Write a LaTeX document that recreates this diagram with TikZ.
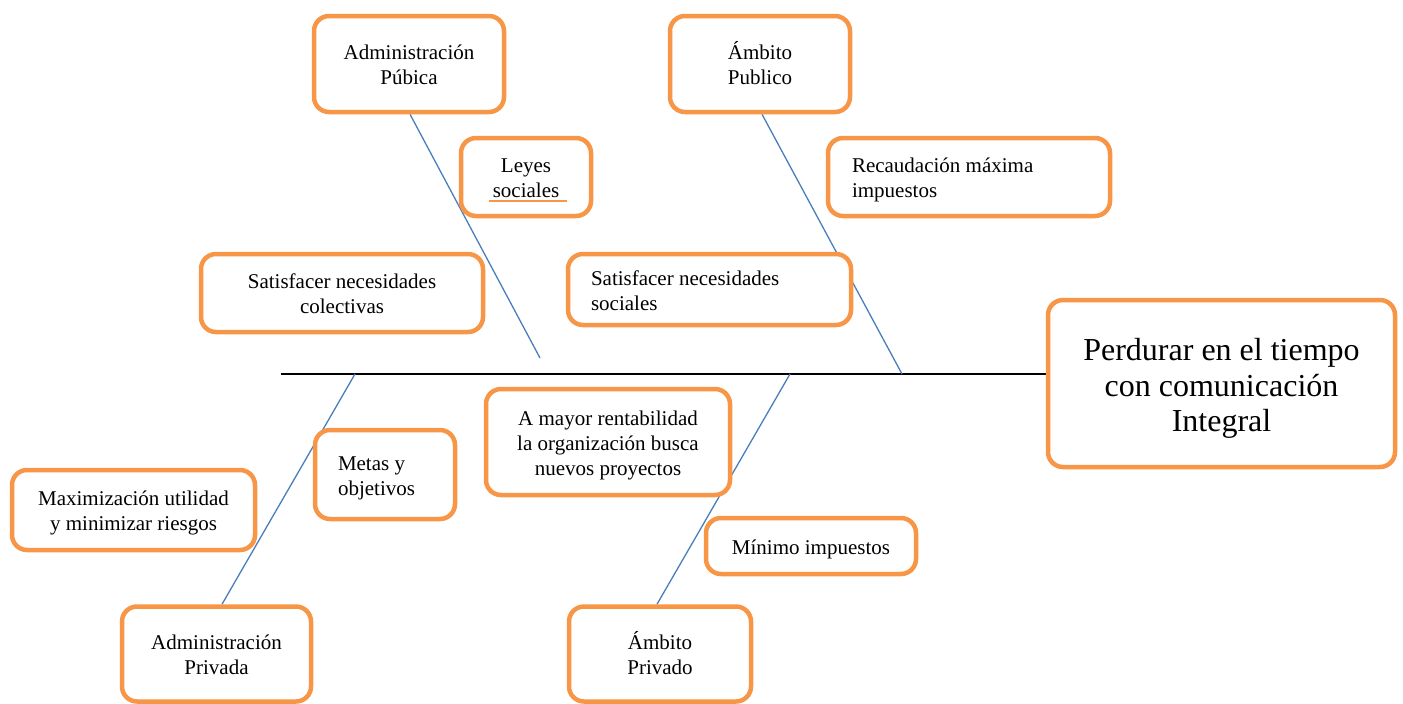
\documentclass[tikz,border=0pt]{standalone}
\usepackage{fontspec}
\setmainfont{Liberation Serif}
\usetikzlibrary{backgrounds,calc}
\definecolor{boxorange}{HTML}{F79646}
\definecolor{boneblue}{HTML}{4A7EBB}
\newcommand{\topst}{\rule{0pt}{1.1em}}
\newcommand{\botst}{\rule[-0.3em]{0pt}{0pt}}
\tikzset{
  box/.style={draw=boxorange, line width=4.5pt, rounded corners=15pt, fill=white,
    inner sep=0pt, align=center, font=\fontsize{21}{25}\selectfont},
  bone/.style={draw=boneblue, line width=1.3pt},
  spine/.style={draw=black, line width=1.3pt}
}
\begin{document}
\begin{tikzpicture}[x=1pt,y=-1pt]
\useasboundingbox (0,0) rectangle (1403,704);
\node[box, minimum width=190, minimum height=96] (AdmPub) at (409,64) {\topst Administración\\Púbica\botst};
\node[box, minimum width=180, minimum height=96] (AmbPub) at (760,64) {\topst Ámbito\\Publico\botst};
\node[box, minimum width=130, minimum height=78] (Leyes) at (526,177) {\topst Leyes\\sociales\botst};
\node[box, minimum width=282, minimum height=78, align=flush left, text width=234] (Recaud) at (969,177) {\topst Recaudación máxima\\impuestos\botst};
\node[box, minimum width=282, minimum height=78] (SatCol) at (342,293) {\topst Satisfacer necesidades\\colectivas\botst};
\node[box, minimum width=283, minimum height=71, align=flush left, text width=237] (SatSoc) at (709.5,289.5) {\topst Satisfacer necesidades\\sociales\botst};
\node[box, minimum width=347, minimum height=167, font=\fontsize{32}{35.5}\selectfont] (Perdurar) at (1221.5,383.5) {\topst Perdurar en el tiempo\\con comunicación\\Integral\botst};
\node[box, minimum width=244, minimum height=106] (AMayor) at (608,442) {\topst A mayor rentabilidad\\la organización busca\\nuevos proyectos\botst};
\node[box, minimum width=140, minimum height=89, align=flush left, text width=94] (Metas) at (385,474.5) {\topst Metas y\\objetivos\botst};
\node[box, minimum width=243, minimum height=80] (Maxim) at (133.5,510) {\topst Maximización utilidad\\y minimizar riesgos\botst};
\node[box, minimum width=210, minimum height=56] (Minimo) at (811,546) {\topst Mínimo impuestos\botst};
\node[box, minimum width=189, minimum height=95] (AdmPriv) at (216.5,654) {\topst Administración\\Privada\botst};
\node[box, minimum width=182, minimum height=95] (AmbPriv) at (660,654) {\topst Ámbito\\Privado\botst};
\draw[boxorange, line width=2pt] (489,201) -- (567,201);
\coordinate (SpStart) at (281,374);
\coordinate (B1) at (540,358);
\coordinate (B2) at (902,374);
\coordinate (B3) at (355,374);
\coordinate (B4) at (790,374);
\begin{pgfonlayer}{background}
\draw[spine] (SpStart) -- (SpStart -| Perdurar.west);
\draw[bone] ([xshift=1]AdmPub.south) -- (B1);
\draw[bone] ([xshift=2]AmbPub.south) -- (B2);
\draw[bone] (B3) -- ([xshift=5.5]AdmPriv.north);
\draw[bone] (B4) -- ([xshift=-3]AmbPriv.north);
\end{pgfonlayer}
\end{tikzpicture}
\end{document}
